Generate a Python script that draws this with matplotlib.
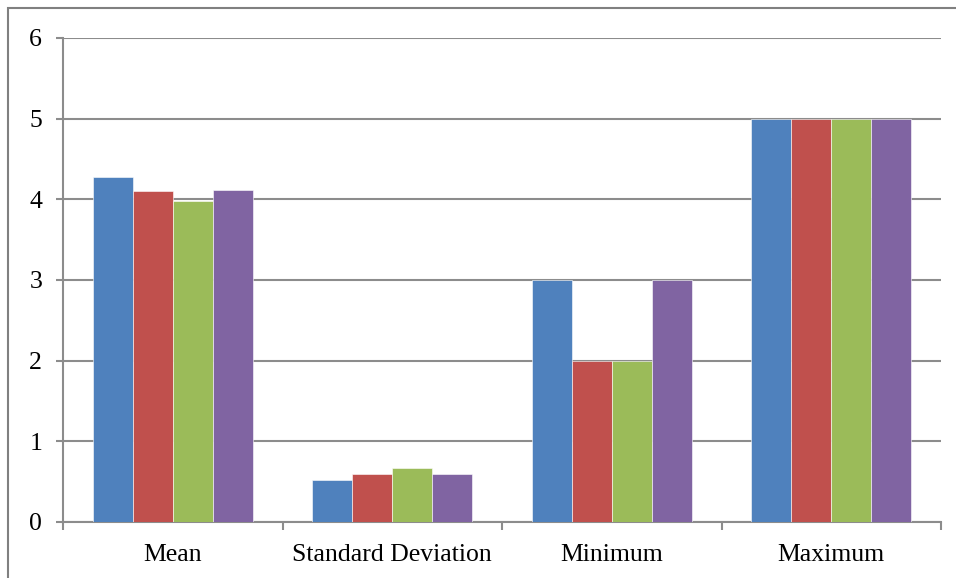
import matplotlib
matplotlib.use("Agg")
import matplotlib.pyplot as plt
import numpy as np
from matplotlib.patches import Rectangle

categories = ["Mean", "Standard Deviation", "Minimum", "Maximum"]
series1 = [4.28, 0.52, 3, 5]
series2 = [4.10, 0.60, 2, 5]
series3 = [3.98, 0.665, 2, 5]
series4 = [4.12, 0.59, 3, 5]
colors = ["#4F81BD", "#C0504D", "#9BBB59", "#8064A2"]
yticks = [0, 1, 2, 3, 4, 5, 6]

W, H = 956, 578
fig = plt.figure(figsize=(W / 100, H / 100), dpi=100)
fig.patch.set_facecolor("white")
# chart-area border
fig.add_artist(Rectangle((8 / W, -0.1), 1.2, (H - 8) / H + 0.1, transform=fig.transFigure,
                         fill=False, edgecolor="#808080", linewidth=1.5))

ax = fig.add_axes([63 / W, (H - 522) / H, 878 / W, 484 / H])
x = np.arange(len(categories))
bw = 0.73 / 4
for i, s in enumerate([series1, series2, series3, series4]):
    ax.bar(x - 0.365 + bw * (i + 0.5), s, width=bw, color=colors[i], edgecolor="white",
           linewidth=0.4, zorder=3)

ax.set_xlim(-0.5, len(categories) - 0.5)
ax.set_ylim(0, 6)
ax.set_yticks(yticks)
ax.yaxis.grid(True, color="#8c8c8c", linewidth=1.5, zorder=0)
ax.set_axisbelow(True)
for sp in ["top", "right"]:
    ax.spines[sp].set_visible(False)
ax.spines["left"].set_color("#8c8c8c")
ax.spines["bottom"].set_color("#8c8c8c")
ax.spines["left"].set_linewidth(1.5)
ax.spines["bottom"].set_linewidth(1.5)

ax.set_xticks(np.arange(-0.5, len(categories)), minor=False)
ax.set_xticklabels([])
ax.set_xticks(x, minor=True)
ax.set_xticklabels(categories, minor=True)
ax.tick_params(axis="x", which="major", length=6, color="#8c8c8c", width=1.5)
ax.tick_params(axis="x", which="minor", length=0, pad=16)
ax.tick_params(axis="y", length=5, color="#8c8c8c", width=1.5, pad=10)
for lbl in ax.get_xticklabels(minor=True) + ax.get_yticklabels():
    lbl.set_fontfamily("Liberation Serif")
    lbl.set_fontsize(18.5)
    lbl.set_color("black")

fig.savefig("out.png", dpi=100)
